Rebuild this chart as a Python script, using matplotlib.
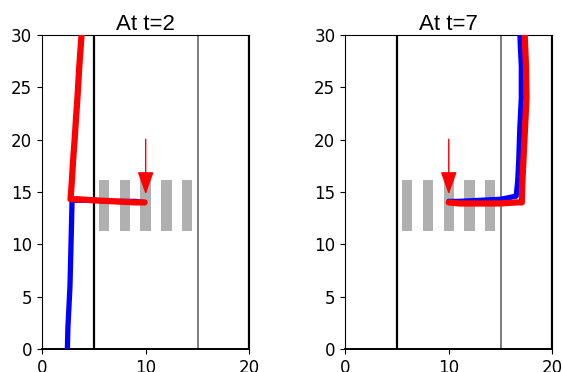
import matplotlib
matplotlib.use("Agg")
import matplotlib.pyplot as plt
from matplotlib.patches import Rectangle

# lane lines and crosswalk
lane_x = [5, 15, 20]
lane_colors = ["black", "0.35", "black"]
lane_widths = [1.6, 1.1, 1.6]
stripe_centers = [6, 8, 10, 12, 14]
stripe_width = 1.0
stripe_bottom = 11.3
stripe_top = 16.1
arrow_x = 10
arrow_top = 20.3
arrow_tip = 14.5

titles = ["At t=2", "At t=7"]

# t=2 trajectories
blue2_x = [2.45, 2.5, 2.6, 2.7, 2.75, 2.8, 2.85, 2.9, 3.5, 5.0, 7.0, 9.0, 9.8]
blue2_y = [0.0, 2.0, 4.0, 6.0, 8.0, 10.0, 12.0, 14.2, 14.2, 14.2, 14.1, 14.1, 14.0]
red2_x = [9.9, 9.0, 7.0, 5.0, 3.5, 2.75, 2.88, 3.0, 3.15, 3.28, 3.42, 3.6, 3.85]
red2_y = [14.0, 14.0, 14.1, 14.2, 14.3, 14.3, 16.0, 18.0, 20.0, 22.0, 24.0, 27.0, 30.5]

# t=7 trajectories
blue7_x = [10.0, 11.0, 13.0, 15.0, 16.5, 16.65, 16.75, 16.85, 17.0, 17.0, 16.9, 16.85]
blue7_y = [14.1, 14.1, 14.2, 14.3, 14.6, 16.0, 18.0, 21.0, 24.0, 27.0, 29.0, 30.5]
red7_x = [10.0, 11.0, 13.0, 15.0, 16.5, 17.05, 17.1, 17.2, 17.35, 17.5, 17.45, 17.3]
red7_y = [14.0, 13.9, 13.9, 13.9, 14.0, 14.0, 16.0, 18.0, 21.0, 24.0, 27.0, 30.5]

paths = [(blue2_x, blue2_y, red2_x, red2_y), (blue7_x, blue7_y, red7_x, red7_y)]

fig = plt.figure(figsize=(5.62, 3.72), dpi=100)
lefts = [0.0747, 0.614]

for i in range(2):
    ax = fig.add_axes([lefts[i], 0.062, 0.369, 0.844])
    for sx in stripe_centers:
        ax.add_patch(Rectangle((sx - stripe_width / 2, stripe_bottom), stripe_width,
                               stripe_top - stripe_bottom, color="#b0b0b0", lw=0, zorder=1))
    for lx, lc, lw in zip(lane_x, lane_colors, lane_widths):
        ax.axvline(lx, color=lc, lw=lw, zorder=2)
    bx, by, rx, ry = paths[i]
    ax.plot(bx, by, color="blue", lw=3.8, solid_capstyle="round",
            solid_joinstyle="round", zorder=3)
    ax.plot(rx, ry, color="red", lw=4.5, solid_capstyle="round",
            solid_joinstyle="round", zorder=4)
    ax.annotate("", xy=(arrow_x, arrow_tip), xytext=(arrow_x, arrow_top),
                arrowprops=dict(arrowstyle="-|>,head_length=1.4,head_width=0.5",
                                color="red", lw=1), zorder=5)
    ax.set_xlim(0, 20)
    ax.set_ylim(0, 30)
    ax.set_xticks([0, 10, 20])
    ax.set_yticks([0, 5, 10, 15, 20, 25, 30])
    ax.tick_params(labelsize=12)
    ax.spines["bottom"].set_linewidth(1.4)
    ax.set_title(titles[i], fontsize=16, family="Liberation Sans", pad=3)

fig.savefig("out.png", dpi=100)
